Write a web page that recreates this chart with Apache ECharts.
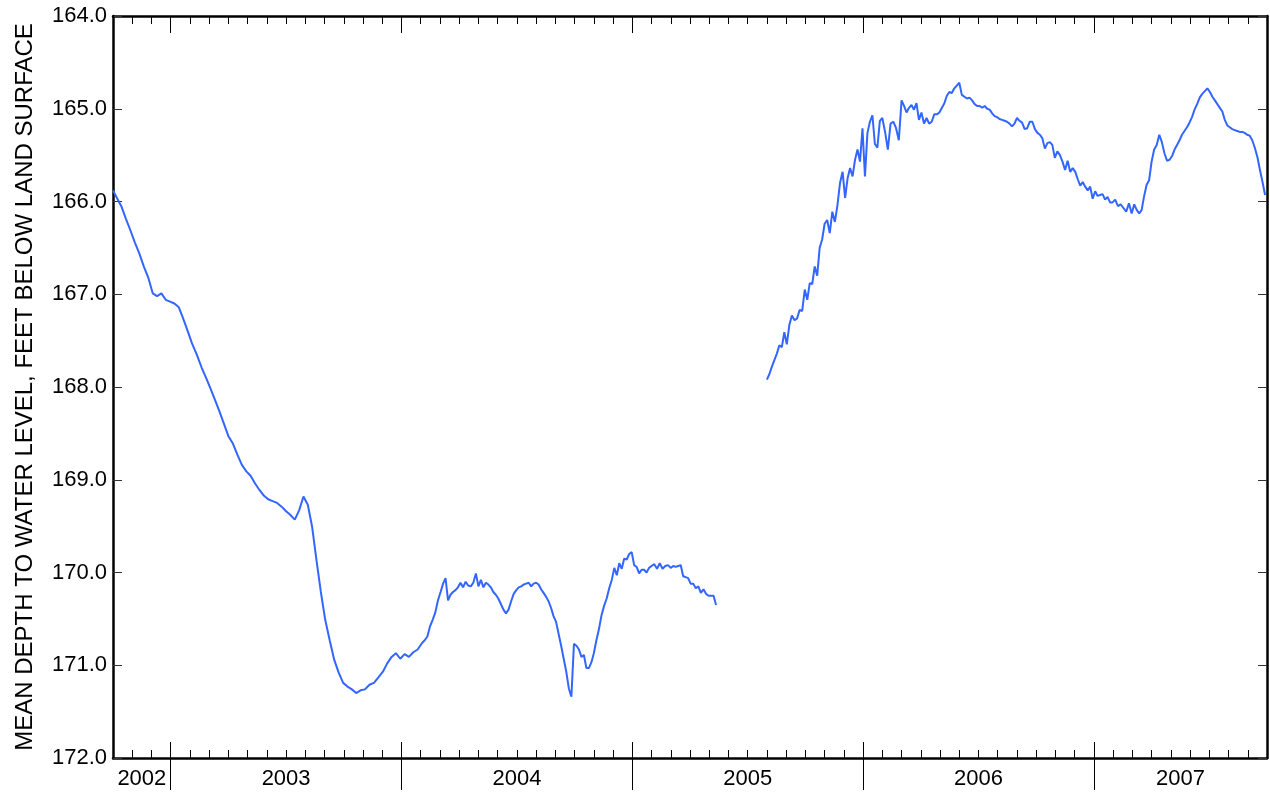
<!DOCTYPE html>
<html>
<head>
<meta charset="utf-8">
<script src="https://cdn.jsdelivr.net/npm/echarts@6/dist/echarts.min.js"></script>
<style>
html,body{margin:0;padding:0;background:#fff;}
#chart{width:1270px;height:797px;}
</style>
</head>
<body>
<div id="chart"></div>
<script>
// ---- DATA ----
const yearLabels = ['2002', '2003', '2004', '2005', '2006', '2007'];
const yTickMin = 164, yTickMax = 172, yTickStep = 1;
const axisStart = '2002-10-01';
const axisEnd = '2007-10-01';

// Segment 1a: weekly readings from 2002-10-01
const seg1aStart = '2002-10-01', seg1aStep = 7;
const seg1aValues = [
165.88,165.97,166.06,166.19,166.31,166.44,166.56,166.70,166.82,166.99,
167.02,166.99,167.06,167.08,167.10,167.14,167.26,167.39,167.53,167.65,
167.79,167.91,168.03,168.15,168.27,168.40,168.53,168.61,168.73,168.84,
168.91,168.96,169.04,169.11,169.17,169.21,169.23,169.25,169.29,169.34,
169.38,169.43,169.33,169.18,169.27,169.51,169.87,170.21,170.51,170.73,
170.94,171.08,171.19,171.23,171.26,171.30,171.27,171.26,171.21,171.19,
171.13,171.07,170.98,170.91,170.87,170.93,170.88,170.91,170.86,170.83
];

// Segment 1b: 4-day readings from 2004-02-03
const seg1bStart = '2004-02-03', seg1bStep = 4;
const seg1bValues = [
170.76,170.73,170.69,170.58,170.51,170.43,170.30,170.21,170.12,170.06,
170.30,170.24,170.21,170.19,170.16,170.11,170.16,170.10,170.14,170.15,
170.11,170.01,170.15,170.08,170.16,170.11,170.13,170.16,170.21,170.24,
170.28,170.34,170.40,170.44,170.40,170.31,170.23,170.19,170.16,170.15,
170.13,170.12,170.11,170.15,170.12,170.11,170.13,170.18,170.22,170.26,
170.31,170.38,170.47,170.53,170.66,170.79,170.93,171.07,171.25,171.34,
170.77,170.79,170.83,170.91,170.89,171.03,171.03,170.97,170.87,170.73,
170.61,170.46,170.36,170.28,170.17,170.08,169.95,170.03,169.90,169.96,
169.85,169.86,169.80,169.78,169.92,169.94,170.01,169.97,169.97,170.00,
169.95,169.93,169.91,169.96,169.90,169.96,169.93,169.92,169.95,169.93,
169.94,169.93,169.92,170.04,170.05,170.06,170.12,170.12,170.17,170.15,
170.22,170.18,170.23,170.25,170.25,170.25,170.35
];

// Segment 2: 4-day readings from 2005-08-01
const seg2Start = '2005-08-01', seg2Step = 4;
const seg2Values = [
167.92,167.86,167.78,167.71,167.64,167.55,167.57,167.41,167.54,167.33,
167.23,167.28,167.26,167.17,167.18,166.95,167.06,166.88,166.89,166.70,
166.80,166.50,166.41,166.24,166.20,166.34,166.11,166.22,166.04,165.80,
165.68,165.96,165.75,165.64,165.73,165.55,165.44,165.57,165.21,165.73,
165.26,165.14,165.07,165.38,165.42,165.13,165.10,165.25,165.44,165.16,
165.14,165.21,165.34,164.91,164.97,165.04,164.99,164.96,165.01,164.94,
165.12,165.04,165.16,165.10,165.16,165.14,165.06,165.06,165.04,164.99,
164.94,164.86,164.82,164.83,164.78,164.75,164.72,164.85,164.87,164.89,
164.88,164.91,164.95,164.97,164.97,164.99,164.97,165.00,165.01,165.05,
165.08,165.09,165.11,165.12,165.13,165.14,165.16,165.19,165.16,165.10,
165.13,165.15,165.22,165.21,165.14,165.14,165.22,165.26,165.28,165.32,
165.43,165.37,165.36,165.39,165.53,165.46,165.50,165.57,165.66,165.56,
165.68,165.64,165.68,165.76,165.83,165.79,165.84,165.88,165.84,165.97,
165.89,165.94,165.93,165.92,165.98,165.95,166.01,166.01,165.98,166.05,
166.03,166.07,166.11,166.02,166.13,166.03,166.09,166.13,166.09,165.94,
165.82,165.77,165.57,165.44,165.39,165.28,165.36,165.48,165.56,165.55,
165.51,165.44,165.39,165.34,165.28,165.24,165.20,165.15,165.09,165.01,
164.95,164.88,164.84,164.81,164.78,164.82,164.87,164.91,164.95,164.99,
165.03,165.12,165.18,165.20,165.22,165.23,165.24,165.25,165.25,165.26,
165.28,165.29,165.34,165.42,165.52,165.66,165.79,165.93
];

// ---- helpers: date -> months since Jan 2002 ----
function parseDate(s){ const p = s.split('-').map(Number); return new Date(Date.UTC(p[0], p[1]-1, p[2])); }
function toMonths(d){
  const y = d.getUTCFullYear(), m = d.getUTCMonth(), day = d.getUTCDate();
  const dim = new Date(Date.UTC(y, m+1, 0)).getUTCDate();
  return (y-2002)*12 + m + (day-1)/dim;
}
function buildSeries(start, step, values){
  const t0 = parseDate(start).getTime();
  return values.map((v,i)=>[toMonths(new Date(t0 + i*step*86400000)), v]);
}
const xMin = toMonths(parseDate(axisStart));
const xMax = toMonths(parseDate(axisEnd));
const firstYear = Number(yearLabels[0]);
const yearTicks = [], labelPos = [];
for (let k=1;k<yearLabels.length;k++) yearTicks.push(k*12 + (firstYear-2002)*12);
{
  const bounds = [xMin].concat(yearTicks).concat([xMax]);
  for (let k=0;k<bounds.length-1;k++) labelPos.push((bounds[k]+bounds[k+1])/2);
}
const seg1Data = buildSeries(seg1aStart, seg1aStep, seg1aValues).concat(buildSeries(seg1bStart, seg1bStep, seg1bValues));
const seg2Data = buildSeries(seg2Start, seg2Step, seg2Values);

const black = '#000';
const font = 'Liberation Sans, Arial, sans-serif';
const chart = echarts.init(document.getElementById('chart'), null, {renderer:'canvas'});
const baseX = {type:'value', min:xMin, max:xMax, splitLine:{show:false}, axisLabel:{show:false}};
chart.setOption({
  animation:false,
  backgroundColor:'#fff',
  grid:{left:113, right:3, top:16, bottom:39, containLabel:false},
  xAxis:[
    Object.assign({}, baseX, {position:'bottom', interval:1,
      axisLine:{show:true, lineStyle:{color:black, width:2.5}},
      axisTick:{show:true, inside:true, length:8, lineStyle:{color:black, width:1}}}),
    Object.assign({}, baseX, {position:'bottom',
      axisLine:{show:false},
      axisTick:{show:true, inside:true, length:16, customValues:yearTicks, lineStyle:{color:black, width:1}},
      axisLabel:{show:true, customValues:labelPos, margin:10, fontSize:22, color:black, fontFamily:font,
        formatter:function(v){ const idx = Math.floor((v - (firstYear-2002)*12)/12); return yearLabels[Math.max(0,Math.min(yearLabels.length-1, idx))]; }}}),
    Object.assign({}, baseX, {position:'bottom',
      axisLine:{show:false},
      axisTick:{show:true, inside:false, length:32, customValues:yearTicks, lineStyle:{color:black, width:1}}}),
    Object.assign({}, baseX, {position:'top', interval:1,
      axisLine:{show:true, lineStyle:{color:black, width:2.5}},
      axisTick:{show:true, inside:true, length:8, lineStyle:{color:black, width:1}}}),
    Object.assign({}, baseX, {position:'top',
      axisLine:{show:false},
      axisTick:{show:true, inside:true, length:17, customValues:yearTicks, lineStyle:{color:black, width:1}}})
  ],
  yAxis:[
    {type:'value', position:'left', min:yTickMin, max:yTickMax, interval:yTickStep, inverse:true,
     name:'MEAN DEPTH TO WATER LEVEL, FEET BELOW LAND SURFACE', nameLocation:'middle', nameGap:76,
     nameTextStyle:{fontSize:24, color:black, fontFamily:font},
     axisLine:{show:true, lineStyle:{color:black, width:2.5}},
     axisTick:{show:true, inside:true, length:9, lineStyle:{color:'#333', width:1}},
     axisLabel:{show:true, margin:6, fontSize:22, color:black, fontFamily:font,
       formatter:function(v){ return v.toFixed(1); }},
     splitLine:{show:false}},
    {type:'value', position:'right', min:yTickMin, max:yTickMax, interval:yTickStep, inverse:true,
     axisLine:{show:true, lineStyle:{color:black, width:2.5}},
     axisTick:{show:true, inside:true, length:9, lineStyle:{color:'#333', width:1}},
     axisLabel:{show:false}, splitLine:{show:false}}
  ],
  series:[
    {type:'line', xAxisIndex:0, yAxisIndex:0, data:seg1Data, showSymbol:false, symbol:'none',
     lineStyle:{color:'#3366ff', width:2}, silent:true},
    {type:'line', xAxisIndex:0, yAxisIndex:0, data:seg2Data, showSymbol:false, symbol:'none',
     lineStyle:{color:'#3366ff', width:2}, silent:true}
  ]
});
</script>
</body>
</html>
